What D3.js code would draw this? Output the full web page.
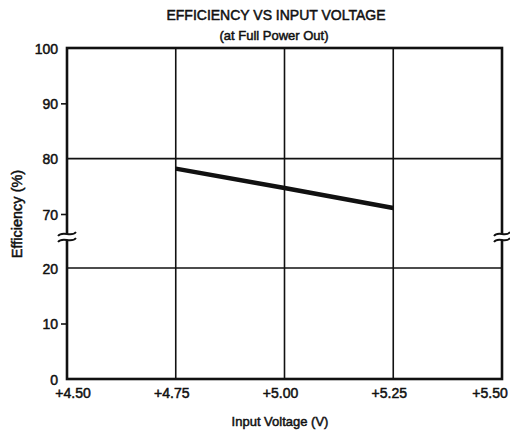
<!DOCTYPE html>
<html>
<head>
<meta charset="utf-8">
<script src="https://cdn.jsdelivr.net/npm/d3@7"></script>
<style>
  html, body { margin: 0; padding: 0; background: #fff; }
  svg { display: block; }
  text { font-family: "Liberation Sans", Arial, Helvetica, sans-serif; fill: #111; }
</style>
</head>
<body>
<svg id="chart" width="510" height="433"></svg>
<script>
// Efficiency vs input voltage (at full power out)
const voltage = [4.75, 5.00, 5.25];
const efficiency = [78.2, 74.7, 71.1];

const xTicks = [4.50, 4.75, 5.00, 5.25, 5.50];
const xTickLabels = ["+4.50", "+4.75", "+5.00", "+5.25", "+5.50"];
const yTicks = [0, 10, 20, 70, 80, 90, 100];
const yGridValues = [20, 80];

const svg = d3.select("#chart");
const ink = "#111";

// Broken y-axis: 20..70 is compressed into a single grid step
const x = d3.scaleLinear().domain([4.5, 5.5]).range([67, 502]);
const y = d3.scaleLinear().domain([0, 20, 70, 100]).range([379, 268, 214, 48]);

// Vertical grid lines
svg.append("g").selectAll("line")
  .data(xTicks.slice(1, -1))
  .join("line")
  .attr("x1", d => x(d)).attr("x2", d => x(d))
  .attr("y1", y(100)).attr("y2", y(0))
  .attr("stroke", ink).attr("stroke-width", 1.6);

// Horizontal grid lines
svg.append("g").selectAll("line")
  .data(yGridValues)
  .join("line")
  .attr("x1", x(4.5)).attr("x2", x(5.5))
  .attr("y1", d => y(d)).attr("y2", d => y(d))
  .attr("stroke", ink).attr("stroke-width", 1.6);

// Frame
svg.append("rect")
  .attr("x", x(4.5)).attr("y", y(100))
  .attr("width", x(5.5) - x(4.5)).attr("height", y(0) - y(100))
  .attr("fill", "none").attr("stroke", ink).attr("stroke-width", 2.6);

// Axis break marks on both sides
const breakMid = (y(20) + y(70)) / 2 - 4;
function drawBreak(cx, half) {
  const g = svg.append("g");
  g.append("rect")
    .attr("x", cx - 3).attr("y", breakMid - 3)
    .attr("width", 6).attr("height", 6).attr("fill", "#fff");
  [-3, 3].forEach(off => {
    const yy = breakMid + off;
    g.append("path")
      .attr("d", `M${cx - half},${yy + 2} C${cx - half / 2},${yy - 4} ${cx + half / 2},${yy + 4} ${cx + half},${yy - 2}`)
      .attr("fill", "none").attr("stroke", ink).attr("stroke-width", 1.8);
  });
}
drawBreak(x(4.5), 9);
drawBreak(x(5.5), 8);

// Y ticks and labels (tick marks only where no grid line is drawn)
const yAxis = d3.axisLeft(y).tickValues(yTicks).tickSize(6).tickPadding(3).tickFormat(d3.format("d"));
const gy = svg.append("g").attr("transform", `translate(${x(4.5)},0)`).call(yAxis);
gy.select(".domain").remove();
gy.selectAll(".tick line")
  .attr("stroke", ink).attr("stroke-width", 1.6)
  .attr("display", d => (yGridValues.includes(d) || d === 0 || d === 100) ? "none" : null);
gy.selectAll(".tick text")
  .attr("font-size", 14).attr("fill", ink).attr("dy", "0.36em")
  .attr("x", -9)
  .attr("font-family", "Liberation Sans, Arial, sans-serif");

// X tick labels
const gx = svg.append("g");
gx.selectAll("text")
  .data(xTicks)
  .join("text")
  .attr("x", d => x(d))
  .attr("y", 398)
  .attr("dx", (d, i) => i === 0 ? 6 : i === xTicks.length - 1 ? -12 : -4)
  .attr("text-anchor", "middle")
  .attr("font-size", 14)
  .text((d, i) => xTickLabels[i]);

// Efficiency curve
const line = d3.line().x((d, i) => x(voltage[i])).y(d => y(d));
svg.append("path")
  .datum(efficiency)
  .attr("d", line)
  .attr("fill", "none").attr("stroke", ink).attr("stroke-width", 4.5);

// Titles
svg.append("text").attr("x", 276).attr("y", 20).attr("text-anchor", "middle")
  .attr("font-size", 14).text("EFFICIENCY VS INPUT VOLTAGE");
svg.append("text").attr("x", 274).attr("y", 40).attr("text-anchor", "middle")
  .attr("font-size", 13).text("(at Full Power Out)");
svg.append("text").attr("x", 280).attr("y", 426).attr("text-anchor", "middle")
  .attr("font-size", 13).text("Input Voltage (V)");
svg.append("text")
  .attr("transform", `translate(22,214) rotate(-90)`)
  .attr("text-anchor", "middle")
  .attr("font-size", 14.5).text("Efficiency (%)");

svg.selectAll("text").attr("stroke", ink).attr("stroke-width", 0.5);
</script>
</body>
</html>
